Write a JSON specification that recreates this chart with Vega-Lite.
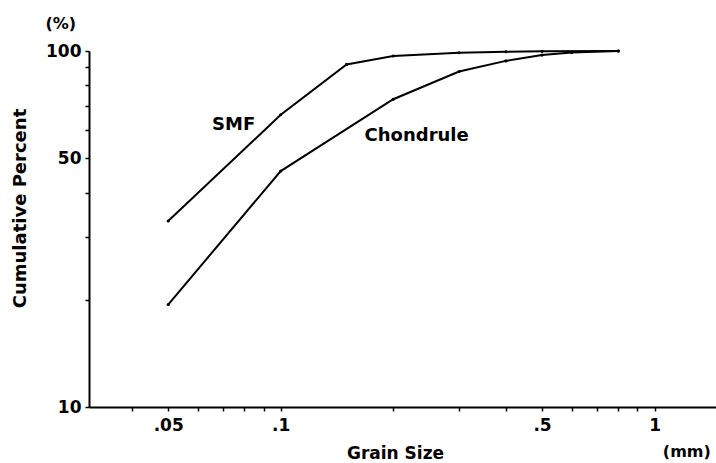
{
  "$schema": "https://vega.github.io/schema/vega-lite/v6.json",
  "width": 627,
  "height": 356,
  "autosize": {"type": "none"},
  "padding": {"left": 89, "top": 51, "right": 0, "bottom": 56},
  "background": "white",
  "config": {
    "view": {"stroke": null},
    "font": "DejaVu Sans",
    "axis": {
      "grid": false,
      "domainColor": "black",
      "domainWidth": 2,
      "tickColor": "black",
      "tickWidth": 1.5,
      "tickSize": 4,
      "labelColor": "black",
      "labelFontSize": 17,
      "labelFont": "DejaVu Sans",
      "labelFontWeight": "bold",
      "titleColor": "black",
      "titleFont": "DejaVu Sans",
      "titleFontSize": 17,
      "titleFontWeight": "bold"
    }
  },
  "datasets": {
    "curves": [
      {"series": "SMF", "size": 0.05, "pct": 33.3},
      {"series": "SMF", "size": 0.1, "pct": 66.2},
      {"series": "SMF", "size": 0.15, "pct": 91.7},
      {"series": "SMF", "size": 0.2, "pct": 96.8},
      {"series": "SMF", "size": 0.3, "pct": 98.9},
      {"series": "SMF", "size": 0.4, "pct": 99.5},
      {"series": "SMF", "size": 0.5, "pct": 99.8},
      {"series": "SMF", "size": 0.8, "pct": 100},
      {"series": "Chondrule", "size": 0.05, "pct": 19.4},
      {"series": "Chondrule", "size": 0.1, "pct": 46.0},
      {"series": "Chondrule", "size": 0.2, "pct": 73.2},
      {"series": "Chondrule", "size": 0.3, "pct": 87.6},
      {"series": "Chondrule", "size": 0.4, "pct": 93.8},
      {"series": "Chondrule", "size": 0.5, "pct": 97.4},
      {"series": "Chondrule", "size": 0.6, "pct": 99.0},
      {"series": "Chondrule", "size": 0.8, "pct": 100}
    ],
    "labels": [
      {"label": "SMF", "size": 0.0748, "pct": 62, "kind": "note"},
      {"label": "Chondrule", "size": 0.231, "pct": 57.7, "kind": "note"},
      {"label": "(mm)", "size": 1.22, "pct": 7.48, "kind": "unit"},
      {"label": "(%)", "size": 0.0258, "pct": 118.7, "kind": "unit"}
    ]
  },
  "layer": [
    {
      "mark": {"type": "rule", "color": "black", "strokeWidth": 2},
      "encoding": {
        "y": {"datum": 100, "type": "quantitative"}
      }
    },
    {
      "data": {"name": "curves"},
      "mark": {"type": "line", "color": "black", "strokeWidth": 2, "point": {"filled": true, "size": 10, "color": "black"}},
      "encoding": {
        "x": {
          "field": "size",
          "type": "quantitative",
          "scale": {"type": "log", "domain": [0.0307, 1.46], "nice": false},
          "axis": {
            "values": [0.04, 0.05, 0.06, 0.07, 0.08, 0.09, 0.1, 0.2, 0.3, 0.4, 0.5, 0.6, 0.7, 0.8, 0.9, 1],
            "labelExpr": "datum.value == 0.05 ? '.05' : datum.value == 0.1 ? '.1' : datum.value == 0.5 ? '.5' : datum.value == 1 ? '1' : ''",
            "labelPadding": 6,
            "labelFlush": false,
            "labelOverlap": false,
            "title": "Grain Size",
            "titleX": 306,
            "titleY": 51,
            "titleBaseline": "alphabetic"
          }
        },
        "y": {
          "field": "pct",
          "type": "quantitative",
          "scale": {"type": "log", "domain": [10, 100], "nice": false},
          "axis": {
            "values": [10, 20, 30, 40, 50, 60, 70, 80, 90, 100],
            "labelExpr": "datum.value == 10 || datum.value == 50 || datum.value == 100 ? format(datum.value, 'd') : ''",
            "labelPadding": 4,
            "labelFlush": false,
            "labelOverlap": false,
            "title": "Cumulative Percent",
            "titleFontSize": 18,
            "titleX": -64,
            "titleY": 157,
            "titleBaseline": "alphabetic"
          }
        },
        "detail": {"field": "series", "type": "nominal"}
      }
    },
    {
      "data": {"name": "labels"},
      "transform": [{"filter": "datum.kind == 'note'"}],
      "mark": {"type": "text", "color": "black", "fontSize": 18, "fontWeight": "bold", "font": "DejaVu Sans", "baseline": "middle", "align": "center"},
      "encoding": {
        "x": {"field": "size", "type": "quantitative"},
        "y": {"field": "pct", "type": "quantitative"},
        "text": {"field": "label", "type": "nominal"}
      }
    },
    {
      "data": {"name": "labels"},
      "transform": [{"filter": "datum.kind == 'unit'"}],
      "mark": {"type": "text", "color": "black", "fontSize": 16, "fontWeight": "bold", "font": "DejaVu Sans", "baseline": "middle", "align": "center"},
      "encoding": {
        "x": {"field": "size", "type": "quantitative"},
        "y": {"field": "pct", "type": "quantitative"},
        "text": {"field": "label", "type": "nominal"}
      }
    }
  ]
}
